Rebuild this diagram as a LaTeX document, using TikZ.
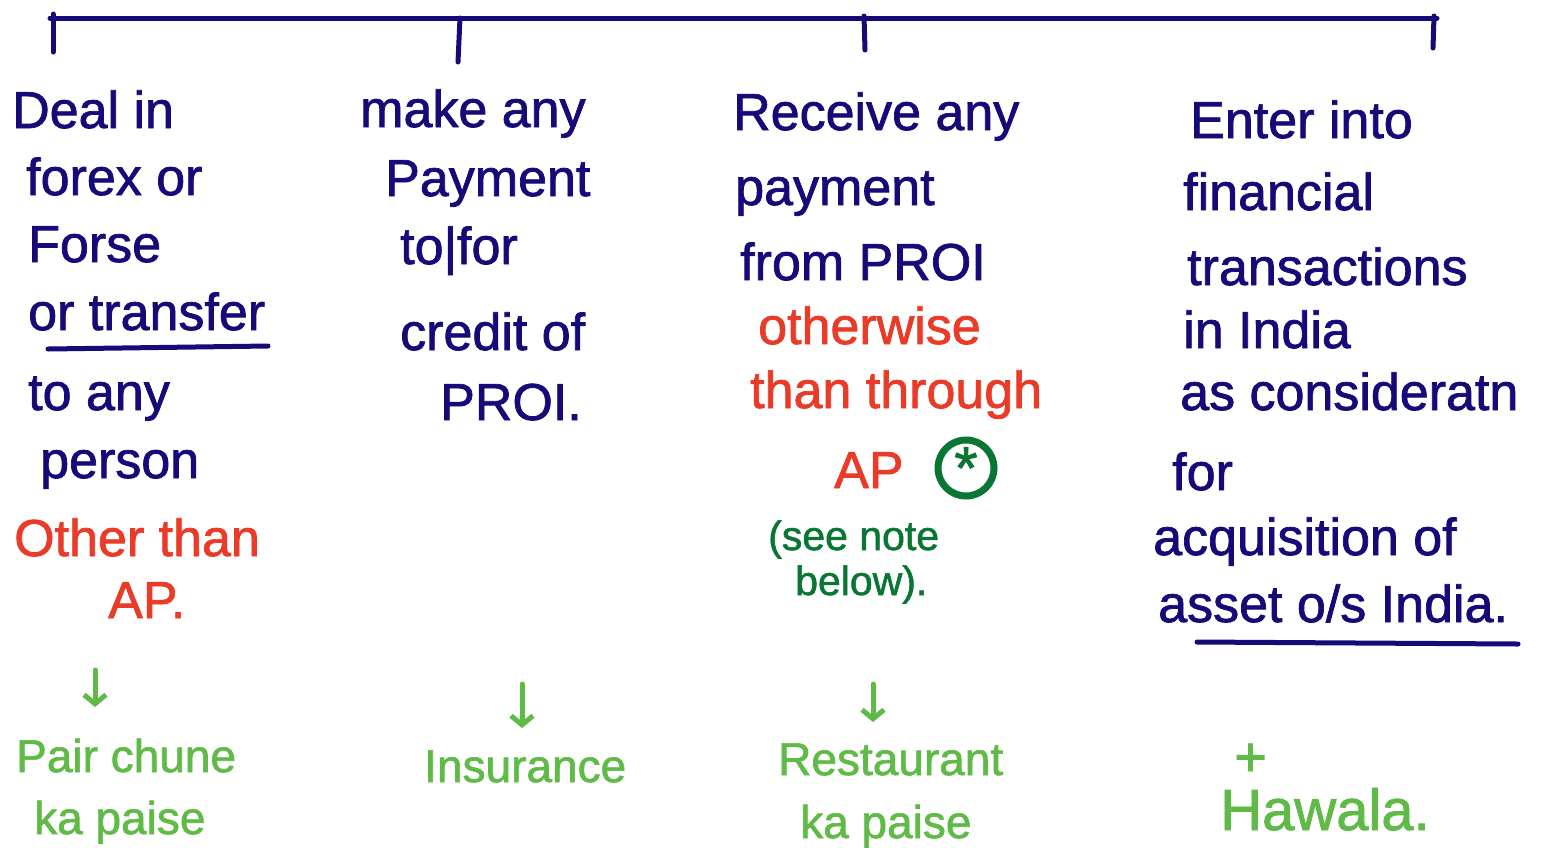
\documentclass[tikz,border=0pt]{standalone}
\usepackage{fontspec}
\setmainfont{Liberation Sans}
\newfontfamily\marker[FakeBold=1.4]{Liberation Sans}
\usetikzlibrary{arrows.meta}
\definecolor{ink}{RGB}{22,10,120}
\definecolor{warn}{RGB}{234,58,40}
\definecolor{notegreen}{RGB}{10,118,52}
\definecolor{leaf}{RGB}{96,186,72}
\tikzset{
  txt/.style={anchor=base west, inner sep=0pt, font=\marker\fontsize{52}{56}\selectfont},
  blue/.style={txt, text=ink},
  red/.style={txt, text=warn},
  dgreen/.style={txt, text=notegreen, font=\marker\fontsize{41}{44}\selectfont},
  lgreen/.style={txt, text=leaf, font=\marker\fontsize{46}{50}\selectfont},
  rule/.style={draw=ink, line width=5pt, line cap=round},
  hook/.style={draw=leaf, line width=5pt, line cap=round, -{Straight Barb[length=9pt,width=22pt,line width=5pt]}},
}
\begin{document}
\begin{tikzpicture}[x=1pt, y=-1pt]
\useasboundingbox (0,0) rectangle (1554,847);
\fill[white] (0,0) rectangle (1554,847);

% top bracket with four drops
\coordinate (b0) at (50,18);
\coordinate (b1) at (1437,18);
\draw[rule] (b0) -- (b1);
\coordinate (t1) at (53,52);   \draw[rule] (53,14) -- (t1);
\coordinate (t2) at (458,62);  \draw[rule] (460,18) -- (t2);
\coordinate (t3) at (865,50);  \draw[rule] (864,16) -- (t3);
\coordinate (t4) at (1433,48); \draw[rule] (1434,16) -- (t4);

% column 1
\node[blue] (a1) at (12,128) {Deal in};
\node[blue] (a2) at (26,195) {forex or};
\node[blue] (a3) at (28,262) {Forse};
\node[blue] (a4) at (28,330) {or transfer};
\draw[rule] (48,349) -- (268,346);
\node[blue] (a5) at (28,410) {to any};
\node[blue] (a6) at (40,478) {person};
\node[red] (a7) at (14,556) {Other than};
\node[red] (a8) at (108,618) {AP.};
\coordinate (h1) at (95,670);
\coordinate (h1e) at (95,707);
\draw[hook] (h1) -- (h1e);
\node[lgreen] (a9) at (16,772) {Pair chune};
\node[lgreen] (a10) at (34,834) {ka paise};

% column 2
\node[blue] (c1) at (360,127) {make any};
\node[blue] (c2) at (385,196) {Payment};
\node[blue] (c3) at (400,264) {to|for};
\node[blue] (c4) at (400,350) {credit of};
\node[blue] (c5) at (440,420) {PROI.};
\coordinate (h2) at (522,684);
\coordinate (h2e) at (522,728);
\draw[hook] (h2) -- (h2e);
\node[lgreen] (c6) at (424,782) {Insurance};

% column 3
\node[blue] (d1) at (733,130) {Receive any};
\node[blue] (d2) at (735,205) {payment};
\node[blue] (d3) at (740,280) {from PROI};
\node[red] (d4) at (758,344) {otherwise};
\node[red] (d5) at (750,408) {than through};
\node[red] (d6) at (834,488) {AP};
\node[draw=notegreen, line width=7pt, circle, minimum size=56pt, inner sep=0pt,
      text=notegreen, font=\marker\fontsize{60}{60}\selectfont] (d7) at (966,468) {\raisebox{-15pt}{*}};
\node[dgreen] (d8) at (768,550) {(see note};
\node[dgreen] (d9) at (795,595) {below).};
\coordinate (h3) at (873,684);
\coordinate (h3e) at (873,722);
\draw[hook] (h3) -- (h3e);
\node[lgreen] (d10) at (778,775) {Restaurant};
\node[lgreen] (d11) at (800,838) {ka paise};

% column 4
\node[blue] (e1) at (1190,138) {Enter into};
\node[blue] (e2) at (1183,210) {financial};
\node[blue] (e3) at (1187,285) {transactions};
\node[blue] (e4) at (1183,348) {in India};
\node[blue] (e5) at (1180,410) {as consideratn};
\node[blue] (e6) at (1172,490) {for};
\node[blue] (e7) at (1153,555) {acquisition of};
\node[blue] (e8) at (1158,622) {asset o/s India.};
\draw[rule] (1197,642) -- (1518,644);
\node[lgreen, font=\marker\fontsize{56}{60}\selectfont] (e9) at (1234,776) {+};
\node[lgreen, font=\marker\fontsize{58}{60}\selectfont] (e10) at (1220,830) {Hawala.};
\end{tikzpicture}
\end{document}
